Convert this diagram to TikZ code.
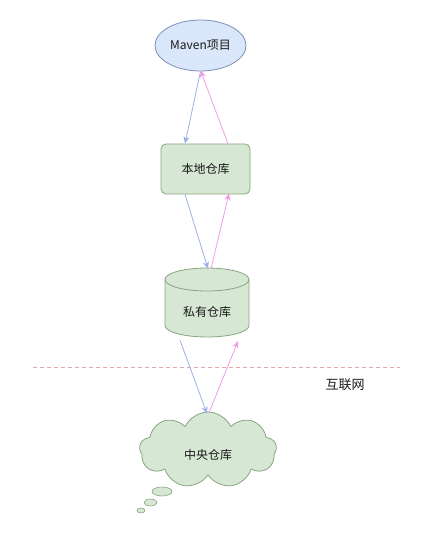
\documentclass[tikz,border=0pt]{standalone}
\usepackage{fontspec}
\setmainfont{Noto Sans CJK SC}
\usetikzlibrary{arrows.meta,shapes.geometric,shapes.symbols}
\definecolor{bluefill}{HTML}{DAE6FA}
\definecolor{blueline}{HTML}{7D8FB8}
\definecolor{greenfill}{HTML}{D6E8D3}
\definecolor{greenline}{HTML}{8AA483}
\definecolor{downarrow}{HTML}{9DB0EA}
\definecolor{uparrow}{HTML}{F09CE4}
\definecolor{sepline}{HTML}{E0AAAA}
\definecolor{txt}{HTML}{1A1A1A}
\tikzset{
  lbl/.style={font=\fontsize{12pt}{14pt}\selectfont, text=txt},
  greenbox/.style={draw=greenline, fill=greenfill, line width=0.8pt},
  downarr/.style={draw=downarrow, line width=0.8pt, -{Stealth[length=7pt,width=6pt,inset=2pt]}},
  uparr/.style={draw=uparrow, line width=0.8pt, -{Stealth[length=7pt,width=6pt,inset=2pt]}},
}
\begin{document}
\begin{tikzpicture}[x=1pt,y=-1pt]
\useasboundingbox (0,0) rectangle (441,540);
% Maven project
\node[ellipse, draw=blueline, fill=bluefill, line width=0.8pt, minimum width=91pt, minimum height=51pt, inner sep=0pt, lbl] (maven) at (200.5,45.5) {Maven项目};
% local repository
\node[rectangle, rounded corners=5pt, greenbox, minimum width=89pt, minimum height=50pt, inner sep=0pt, lbl] (local) at (205.5,169) {本地仓库};
% private repository (cylinder)
\path[greenbox] (165,279.5) -- (165,325.5) arc (180:0:42 and 11.5) -- (249,279.5) arc (0:-180:42 and 11.5) -- cycle;
\draw[draw=greenline, line width=0.8pt] (165,279.5) arc (180:0:42 and 11.5);
\node[rectangle, minimum width=84pt, minimum height=69pt, inner sep=0pt, lbl] (priv) at (207,302.5) {};
\node[lbl] (privlbl) at (207,312) {私有仓库};
% central repository (cloud)
\node[cloud, cloud puffs=9, cloud puff arc=130, aspect=1.9, greenbox, minimum width=137pt, minimum height=76pt, inner sep=0pt, lbl] (central) at (208,450) {};
\node[lbl] (centrallbl) at (208,455) {中央仓库};
\node[ellipse, greenbox, line width=0.6pt, minimum width=20pt, minimum height=9pt, inner sep=0pt] (b1) at (162,491.5) {};
\node[ellipse, greenbox, line width=0.6pt, minimum width=13pt, minimum height=7pt, inner sep=0pt] (b2) at (150.5,502.5) {};
\node[ellipse, greenbox, line width=0.6pt, minimum width=8pt, minimum height=5pt, inner sep=0pt] (b3) at (141,510.5) {};
% internet separator
\coordinate (sepL) at (33,367);
\coordinate (sepR) at (400,367);
\draw[sepline, line width=0.7pt, dash pattern=on 4pt off 3pt] (sepL) -- (sepR);
\node[font=\fontsize{13pt}{15pt}\selectfont, text=txt] (inet) at (345,384.5) {互联网};
% arrows
\draw[downarr] (maven.south) -- ([xshift=-20.5pt]local.north);
\draw[uparr] ([xshift=22.5pt]local.north) -- ([yshift=1pt]maven.south);
\draw[downarr] ([xshift=-20.5pt]local.south) -- ([xshift=1pt,yshift=-1pt]priv.north);
\draw[uparr] ([xshift=4pt,yshift=-1pt]priv.north) -- ([xshift=23.5pt,yshift=1pt]local.south);
\draw[downarr] ([xshift=-27pt,yshift=-3pt]priv.south) -- ([xshift=-1pt,yshift=-2pt]central.north);
\draw[uparr] ([xshift=1pt,yshift=-1pt]central.north) -- ([xshift=31pt,yshift=-4pt]priv.south);
\end{tikzpicture}
\end{document}
